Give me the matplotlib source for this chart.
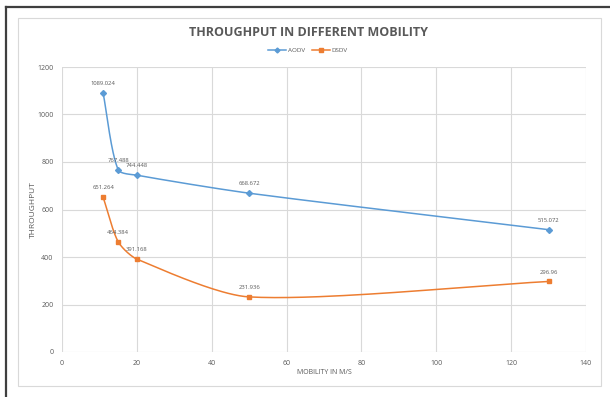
import numpy as np
import matplotlib.pyplot as plt
from matplotlib.lines import Line2D
from matplotlib.patches import Rectangle

plt.rcParams['font.family'] = ['Open Sans', 'DejaVu Sans']

mobility = [11, 15, 20, 50, 130]
aodv = [1089.024, 767.488, 744.448, 668.672, 515.072]
dsdv = [651.264, 464.384, 391.168, 231.936, 296.96]

BLUE = "#5B9BD5"
ORANGE = "#ED7D31"
GRAY = "#595959"

XMAX, YMAX = 140, 1200
AX_W, AX_H = 524, 285   # plot area size in px, used to smooth in screen space


def smooth(xs, ys, n=40, s=0.25):
    # Excel-like smoothed line: bezier segments, control arms scaled by segment length
    p = np.column_stack([np.array(xs) * AX_W / XMAX, np.array(ys) * AX_H / YMAX])
    pts = np.vstack([p[0], p, p[-1]])
    out = []
    t = np.linspace(0, 1, n)[:, None]
    for i in range(1, len(pts) - 2):
        p0, p1, p2, p3 = pts[i - 1], pts[i], pts[i + 1], pts[i + 2]
        seglen = np.linalg.norm(p2 - p1)
        d1 = (p2 - p0) / np.linalg.norm(p2 - p0)
        d2 = (p3 - p1) / np.linalg.norm(p3 - p1)
        c1 = p1 + d1 * seglen * s
        c2 = p2 - d2 * seglen * s
        seg = ((1 - t) ** 3) * p1 + 3 * ((1 - t) ** 2) * t * c1 + 3 * (1 - t) * t ** 2 * c2 + t ** 3 * p2
        out.append(seg if i == 1 else seg[1:])
    out = np.vstack(out)
    return out[:, 0] * XMAX / AX_W, out[:, 1] * YMAX / AX_H


fig = plt.figure(figsize=(6.1, 3.97), dpi=100)
ax = fig.add_axes([62 / 610, 1 - 352 / 397, AX_W / 610, AX_H / 397])

for ys, col, mk, ms in [(aodv, BLUE, "D", 3), (dsdv, ORANGE, "s", 3.5)]:
    sx, sy = smooth(mobility, ys)
    ax.plot(sx, sy, color=col, lw=1.1, zorder=3)
    ax.plot(mobility, ys, ls="none", marker=mk, ms=ms, color=col, zorder=4)
    for x, y in zip(mobility, ys):
        ax.annotate(str(y), (x, y), xytext=(0, 5), textcoords="offset points",
                    ha="center", va="bottom", fontsize=4.2, color=GRAY, zorder=5)

ax.set_xlim(0, XMAX)
ax.set_ylim(0, YMAX)
ax.set_xticks(range(0, 141, 20))
ax.set_yticks(range(0, 1201, 200))
ax.grid(True, color="#D9D9D9", lw=0.8)
ax.set_axisbelow(True)
for s in ax.spines.values():
    s.set_visible(False)
ax.tick_params(length=0, labelsize=5, labelcolor=GRAY, pad=6)

fig.text(324 / 610, 1 - 373 / 397, "MOBILITY IN M/S", ha="center", va="center",
         fontsize=5, color=GRAY)
fig.text(33 / 610, 1 - 210 / 397, "THROUGHPUT", ha="center", va="center",
         rotation=90, fontsize=6, color=GRAY)
fig.text(308 / 610, 1 - 32 / 397, "THROUGHPUT IN DIFFERENT MOBILITY", ha="center", va="center",
         fontsize=9, fontweight="bold", color=GRAY)

handles = [Line2D([], [], color=BLUE, marker="D", ms=2.5, lw=1.1),
           Line2D([], [], color=ORANGE, marker="s", ms=3, lw=1.1)]
fig.legend(handles, ["AODV", "DSDV"], loc="center", bbox_to_anchor=(308 / 610, 1 - 50 / 397),
           ncol=2, frameon=False, fontsize=4.5, handlelength=2.8, columnspacing=1.2,
           handletextpad=0.3, labelcolor=GRAY)

# chart area border and outer frame
fig.patches.append(Rectangle((18 / 610, 1 - 386 / 397), 583 / 610, 368 / 397,
                             transform=fig.transFigure, fill=False, ec="#D9D9D9", lw=0.8))
fig.lines.append(Line2D([6 / 610, 6 / 610], [0, 1 - 7 / 397], transform=fig.transFigure,
                        color="#3F3F3F", lw=1.6))
fig.lines.append(Line2D([6 / 610, 1], [1 - 7 / 397, 1 - 7 / 397], transform=fig.transFigure,
                        color="#3F3F3F", lw=1.6))

fig.savefig("out.png", dpi=100)
